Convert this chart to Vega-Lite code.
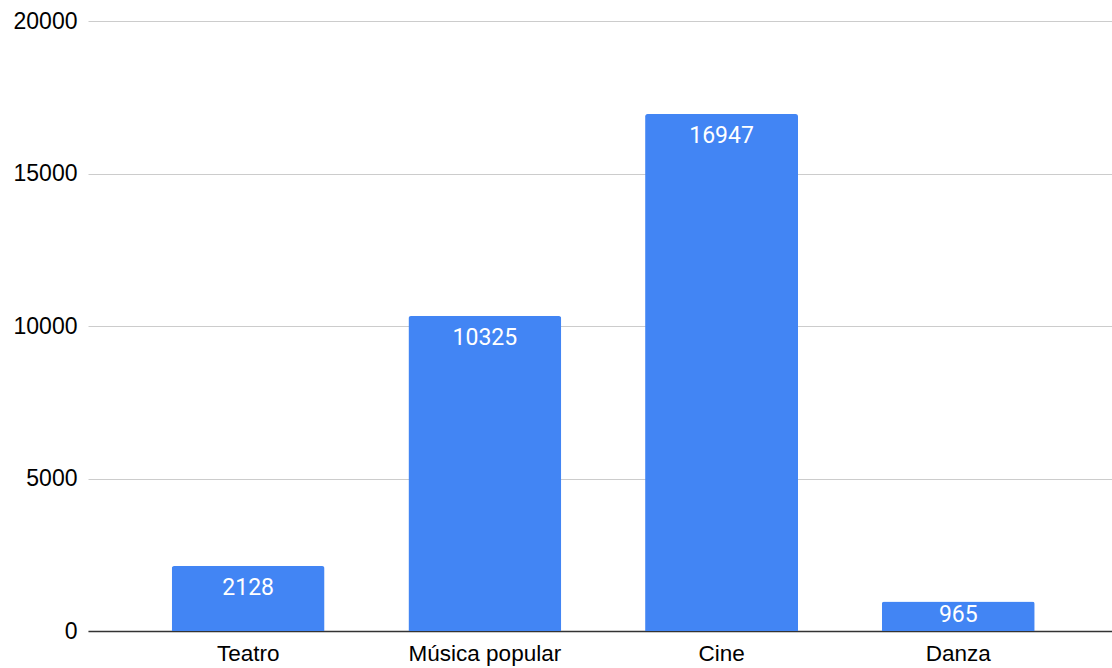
{
  "$schema": "https://vega.github.io/schema/vega-lite/v6.json",
  "autosize": {"type": "none"},
  "width": 1024,
  "height": 610,
  "padding": {"left": 88, "top": 21, "right": 0, "bottom": 37},
  "background": "white",
  "config": {
    "view": {"stroke": null},
    "font": "Liberation Sans"
  },
  "data": {
    "values": [
      {"categoria": "Teatro", "valor": 2128},
      {"categoria": "Música popular", "valor": 10325},
      {"categoria": "Cine", "valor": 16947},
      {"categoria": "Danza", "valor": 965}
    ]
  },
  "encoding": {
    "x": {
      "field": "categoria",
      "type": "nominal",
      "sort": null,
      "scale": {"paddingInner": 0.354, "paddingOuter": 0.34, "align": 0.52},
      "axis": {
        "title": null,
        "labelAngle": 0,
        "labelFont": "Liberation Sans",
        "labelFontSize": 22.5,
        "labelColor": "#000000",
        "labelPadding": 11,
        "ticks": false,
        "tickSize": 0,
        "domainColor": "#333333",
        "domainWidth": 1.5,
        "grid": false
      }
    },
    "y": {
      "field": "valor",
      "type": "quantitative",
      "scale": {"domain": [0, 20000], "nice": false},
      "axis": {
        "title": null,
        "values": [0, 5000, 10000, 15000, 20000],
        "format": "d",
        "labelFont": "Liberation Sans",
        "labelFontSize": 23,
        "labelColor": "#000000",
        "labelPadding": 11,
        "ticks": false,
        "tickSize": 0,
        "domain": false,
        "gridColor": "#cccccc",
        "gridWidth": 1
      }
    }
  },
  "layer": [
    {
      "mark": {
        "type": "bar",
        "color": "#4285F4",
        "cornerRadiusTopLeft": 2.5,
        "cornerRadiusTopRight": 2.5
      }
    },
    {
      "transform": [{"filter": "datum.valor >= 2000"}],
      "mark": {
        "type": "text",
        "color": "#ffffff",
        "font": "Roboto",
        "fontSize": 23,
        "fontWeight": "normal",
        "baseline": "top",
        "dy": 11
      },
      "encoding": {
        "text": {"field": "valor", "type": "quantitative", "format": "d"}
      }
    },
    {
      "transform": [{"filter": "datum.valor < 2000"}],
      "mark": {
        "type": "text",
        "color": "#ffffff",
        "font": "Roboto",
        "fontSize": 23,
        "fontWeight": "normal",
        "baseline": "top",
        "dy": 2
      },
      "encoding": {
        "text": {"field": "valor", "type": "quantitative", "format": "d"}
      }
    }
  ]
}
